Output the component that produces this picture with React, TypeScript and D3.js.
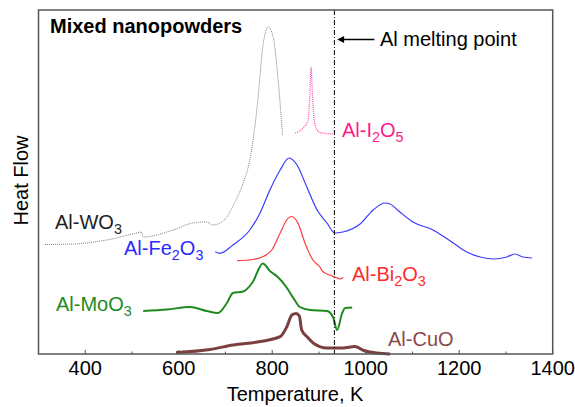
import React from "react";
import * as d3 from "d3";

// Temperature (K) vs heat flow (arbitrary units)
const wo3T = [314, 374, 446, 515, 520, 524, 588, 630, 660, 673, 688, 703, 716, 737, 752, 759, 767, 781, 791, 802, 812, 822];
const wo3V = [109.5, 110, 114, 121.5, 122, 117, 124, 131, 132, 129, 131, 137, 148, 170, 194, 214, 244, 311, 327, 317, 277, 219];

const i2o5T = [849, 866, 876, 880, 883, 886, 891, 902, 930];
const i2o5V = [221, 226, 233, 255, 287, 259, 230, 221.5, 220];

const fe2o3T = [678, 688, 716, 752, 774, 795, 817, 836, 853, 874, 896, 917, 934, 951, 988, 1016, 1041, 1052, 1073, 1101, 1144, 1187, 1216, 1245, 1273, 1302, 1319, 1336, 1356];
const fe2o3V = [102.3, 100.7, 109, 124, 141, 164, 184, 196, 189, 167, 144, 131, 121, 122, 130, 144, 151, 150, 142, 132, 124, 111, 102, 97, 95, 97, 100, 97, 96];

const bi2o3T = [725, 759, 778, 799, 817, 831, 841, 855, 870, 887, 902, 908, 923, 934, 945, 952];
const bi2o3V = [93.3, 94.5, 97, 104, 121, 134, 137.5, 131, 111, 94, 87, 82.5, 79, 77, 75, 76.5];

const moo3T = [524, 575, 624, 660, 684, 703, 716, 738, 757, 780, 795, 812, 830, 848, 859, 881, 917, 930, 939, 949, 956, 971];
const moo3V = [43, 44.5, 47, 43, 41, 51, 61, 62.5, 71, 90.5, 83, 77, 67, 54, 47, 44, 43, 37, 24, 40, 46, 46.5];

const cuoT = [594, 667, 716, 774, 817, 831, 842, 851, 858, 863, 874, 889, 917, 951, 977, 996, 1024, 1052];
const cuoV = [1.5, 4.5, 9, 12.5, 17.3, 27, 39, 40.5, 38, 24, 17.5, 10.5, 6, 6, 7.5, 3.5, 1, 0];

const meltingPoint = 933;
const majorTicks = [400, 600, 800, 1000, 1200, 1400];
const minorTicks = [500, 700, 900, 1100, 1300];

const W = 575;
const H = 407;
const FONT = "Arial, 'Liberation Sans', sans-serif";
const FS = 20;

const x = d3.scaleLinear().domain([300, 1400]).range([38.5, 552.7]);
const y = d3.scaleLinear().domain([0, 344]).range([354, 10]);

function pts(t: number[], v: number[]) {
  return t.map((tt, i) => [tt, v[i]] as [number, number]);
}

const line = d3
  .line<[number, number]>()
  .x((d) => x(d[0]))
  .y((d) => y(d[1]))
  .curve(d3.curveMonotoneX);

function Label({ px, py, color, parts, size = FS }: { px: number; py: number; color: string; parts: [string, boolean][]; size?: number }) {
  return (
    <text x={px} y={py} fill={color} fontSize={size} fontFamily={FONT}>
      {parts.map(([s, sub], i) => (
        <tspan key={i} fontSize={sub ? size * 0.72 : size} dy={sub ? 5 : i > 0 && parts[i - 1][1] ? -5 : 0}>
          {s}
        </tspan>
      ))}
    </text>
  );
}

export default function App() {
  const x0 = x(300);
  const x1 = x(1400);
  const yb = y(0);
  const yt = y(344);
  const xm = x(meltingPoint);
  return (
    <svg width={W} height={H} style={{ position: "absolute", left: 0, top: 0, background: "#fff" }}>
      <defs>
        <marker id="arr" viewBox="0 0 10 10" refX="1" refY="5" markerWidth="9" markerHeight="7" orient="auto-start-reverse" markerUnits="userSpaceOnUse">
          <path d="M0,0 L10,5 L0,10 z" fill="#000" />
        </marker>
      </defs>
      {/* curves */}
      <path d={line(pts(wo3T, wo3V)) || ""} fill="none" stroke="#808080" strokeWidth={1} strokeDasharray="1,1" />
      <path d={line(pts(i2o5T, i2o5V)) || ""} fill="none" stroke="#ff4da6" strokeWidth={1.2} strokeDasharray="1,1" />
      <path d={line(pts(fe2o3T, fe2o3V)) || ""} fill="none" stroke="#3a3aff" strokeWidth={1.2} />
      <path d={line(pts(bi2o3T, bi2o3V)) || ""} fill="none" stroke="#ff3b3b" strokeWidth={1.2} />
      <path d={line(pts(moo3T, moo3V)) || ""} fill="none" stroke="#1e8a1e" strokeWidth={2} />
      <path d={line(pts(cuoT, cuoV)) || ""} fill="none" stroke="#7a3f3f" strokeWidth={3} strokeLinejoin="round" />

      {/* melting point line */}
      <line x1={xm} x2={xm} y1={yt} y2={yb} stroke="#000" strokeWidth={1} strokeDasharray="5,2,1,2" />
      <line x1={xm + 40} x2={xm + 9} y1={39.5} y2={39.5} stroke="#000" strokeWidth={1.5} markerEnd="url(#arr)" />
      <text x={380} y={46} fontSize={FS} fontFamily={FONT} fill="#000">Al melting point</text>

      {/* frame */}
      <rect x={x0} y={yt} width={x1 - x0} height={yb - yt} fill="none" stroke="#555" strokeWidth={1.5} />
      {majorTicks.map((t) => (
        <g key={t}>
          <line x1={x(t)} x2={x(t)} y1={yb} y2={yb - 4} stroke="#555" strokeWidth={1} />
          <text x={x(t)} y={375} textAnchor="middle" fontSize={FS} fontFamily={FONT} fill="#000">{t}</text>
        </g>
      ))}
      {minorTicks.map((t) => (
        <line key={t} x1={x(t)} x2={x(t)} y1={yb} y2={yb - 2.5} stroke="#555" strokeWidth={1} />
      ))}
      <text x={295} y={401} textAnchor="middle" fontSize={FS} fontFamily={FONT} fill="#000">Temperature, K</text>
      <text transform="translate(28,180.5) rotate(-90)" textAnchor="middle" fontSize={FS} fontFamily={FONT} fill="#000">Heat Flow</text>

      <text x={50} y={33} fontSize={FS} fontWeight="bold" fontFamily={FONT} fill="#000">Mixed nanopowders</text>

      <Label px={55} py={229} color="#222" parts={[["Al-WO", false], ["3", true]]} />
      <Label px={124} py={255} color="#2a2aff" parts={[["Al-Fe", false], ["2", true], ["O", false], ["3", true]]} />
      <Label px={342} py={137} color="#ff1a8c" parts={[["Al-I", false], ["2", true], ["O", false], ["5", true]]} />
      <Label px={352} py={281} color="#ff2a2a" parts={[["Al-Bi", false], ["2", true], ["O", false], ["3", true]]} />
      <Label px={56} py={311} color="#1e8a1e" parts={[["Al-MoO", false], ["3", true]]} />
      <Label px={388} py={346} color="#8a4a4a" parts={[["Al-CuO", false]]} />
    </svg>
  );
}
